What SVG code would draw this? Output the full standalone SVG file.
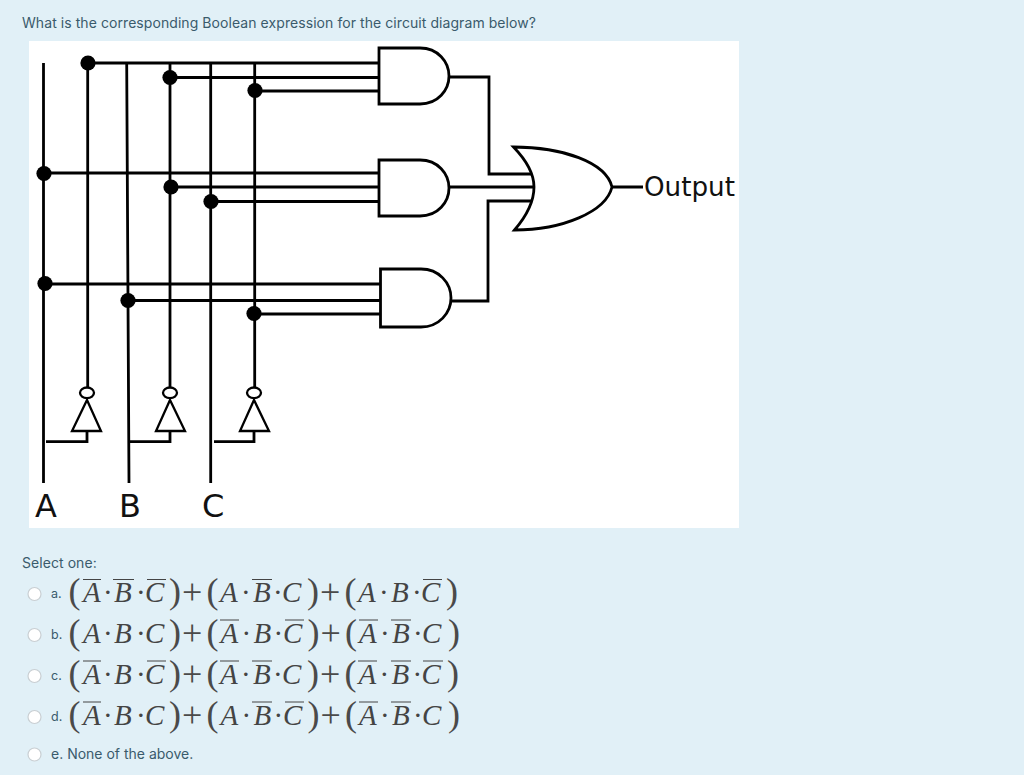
<svg xmlns="http://www.w3.org/2000/svg" width="1024" height="775" viewBox="0 0 1024 775">
<style>
.w{fill:none;stroke:#000;stroke-width:2.8}
.g{fill:#fff;stroke:#000;stroke-width:2.8;stroke-linejoin:miter}
.n{fill:#fff;stroke:#000;stroke-width:2.3}
.d{fill:#000}
.q{font-family:Inter,"Liberation Sans",sans-serif;fill:#3a5b6c}
.l{font-family:"DejaVu Sans",sans-serif;fill:#111}
.m{font-family:"Liberation Serif",serif;fill:#444;font-size:29px}
.i{font-style:italic}
.p{font-size:36px;fill:#4a4a4a}
.o{fill:#fff;stroke:#c9cfd3;stroke-width:1.2}
.bar{fill:none;stroke:#444;stroke-width:1}
</style>
<rect width="1024" height="775" fill="#e1f0f7"/>
<rect x="29" y="41" width="710" height="487" fill="#fff"/>
<text class="q" x="22" y="28" font-size="14" letter-spacing=".068">What is the corresponding Boolean expression for the circuit diagram below?</text>
<g id="connectors">
<path class="w" d="M43.500 63V483M87.700 63V387M126.700 63L129 483M170 63V387M210.700 63V483M254.700 63V387"/>
<path class="w" d="M88 63H379M170 77.500H379M255 91H379M44 173H379M171 187H379M211 201.500H379M45 284H380M128 300.500H380M254 314H380"/>
<path class="w" d="M449 77H489V174H533M449 187H533M451 301H488V201H533M612 187H643"/>
<path class="w" d="M87 431V441.700H46M170 431V441.700H130M254 431V441.700H214"/>
</g>
<g id="junctions">
<circle class="d" cx="88" cy="63" r="7.600"/><circle class="d" cx="170" cy="77.500" r="7.600"/><circle class="d" cx="255" cy="90.500" r="7.600"/>
<circle class="d" cx="44" cy="173.500" r="7.600"/><circle class="d" cx="171" cy="187" r="7.600"/><circle class="d" cx="211" cy="201.500" r="7.600"/>
<circle class="d" cx="45" cy="283.500" r="7.600"/><circle class="d" cx="128" cy="300.500" r="7.600"/><circle class="d" cx="254" cy="313.500" r="7.600"/>
</g>
<g id="and1"><path class="g" d="M379 48H420C438 48 449 62 449 76C449 90 438 104 420 104H379Z"/></g>
<g id="and2"><path class="g" d="M379 160H420C438 160 449 174 449 188C449 202 438 216 420 216H379Z"/></g>
<g id="and3"><path class="g" d="M380.500 269H421C439 269 451 283 451 298C451 313 439 327 421 327H380.500Z"/></g>
<g id="or1"><path class="g" d="M513.500 147C562 147 606 162 612 187C606 212 562 230 514.500 230C530 212 534 198 534 187C534 174 528 162 513.500 147Z"/></g>
<g id="not1"><ellipse class="n" cx="87" cy="392.800" rx="7" ry="5.300"/><path class="n" d="M87 400L72 431H101Z"/></g>
<g id="not2"><ellipse class="n" cx="170" cy="392.800" rx="7" ry="5.300"/><path class="n" d="M170 400L156 431H185Z"/></g>
<g id="not3"><ellipse class="n" cx="254" cy="392.800" rx="7" ry="5.300"/><path class="n" d="M254 400L240 431H269Z"/></g>
<text class="l" x="35" y="517" font-size="32">A</text>
<text class="l" x="119" y="517" font-size="32">B</text>
<text class="l" x="202" y="517" font-size="32">C</text>
<text class="l" x="644" y="196" font-size="26.200">Output</text>
<text class="q" x="22" y="568" font-size="14" letter-spacing=".06">Select one:</text>
<g id="optionA"><circle class="o" cx="34.500" cy="594" r="6.500"/><text class="q" x="51" y="598" font-size="12.500">a.</text>
<text class="m" x="68.500 83 103 114 136 145 169 182 206.500 220 241 253 273 282 307 320 344.500 358 379 391 412 421 446" y="603 602 602 602 602 602 603 604 603 602 602 602 602 602 603 604 603 602 602 602 602 602 603"><tspan class="p">(</tspan><tspan class="i">A</tspan>·<tspan class="i">B</tspan>·<tspan class="i">C</tspan><tspan class="p">)+(</tspan><tspan class="i">A</tspan>·<tspan class="i">B</tspan>·<tspan class="i">C</tspan><tspan class="p">)+(</tspan><tspan class="i">A</tspan>·<tspan class="i">B</tspan>·<tspan class="i">C</tspan><tspan class="p">)</tspan></text>
<path class="bar" d="M83 579.500H101M113 579.500H134M147 579.500H166M252 579.500H272M423 579.500H442"/></g>
<g id="optionB"><circle class="o" cx="34.500" cy="635" r="6.500"/><text class="q" x="51" y="638.500" font-size="12.500">b.</text>
<text class="m" x="68.500 83 103 114 136 145 169 182 206.500 220.500 241.500 253.500 273.500 283 307.500 320.500 345 359 380 392 413 422 448" y="644 643 643 643 643 643 644 645 644 643 643 643 643 643 644 645 644 643 643 643 643 643 644"><tspan class="p">(</tspan><tspan class="i">A</tspan>·<tspan class="i">B</tspan>·<tspan class="i">C</tspan><tspan class="p">)+(</tspan><tspan class="i">A</tspan>·<tspan class="i">B</tspan>·<tspan class="i">C</tspan><tspan class="p">)+(</tspan><tspan class="i">A</tspan>·<tspan class="i">B</tspan>·<tspan class="i">C</tspan><tspan class="p">)</tspan></text>
<path class="bar" d="M220 620H239M285 620H304M359 620H378M391 620H411"/></g>
<g id="optionC"><circle class="o" cx="34.500" cy="676" r="6.500"/><text class="q" x="51" y="680" font-size="12.500">c.</text>
<text class="m" x="68.500 83 103 114 136 145 169 182 206.500 220 241 253 273 282 307 320 344.500 358.500 379.500 391.500 412.500 421.500 447" y="685 684 684 684 684 684 685 686 685 684 684 684 684 684 685 686 685 684 684 684 684 684 685"><tspan class="p">(</tspan><tspan class="i">A</tspan>·<tspan class="i">B</tspan>·<tspan class="i">C</tspan><tspan class="p">)+(</tspan><tspan class="i">A</tspan>·<tspan class="i">B</tspan>·<tspan class="i">C</tspan><tspan class="p">)+(</tspan><tspan class="i">A</tspan>·<tspan class="i">B</tspan>·<tspan class="i">C</tspan><tspan class="p">)</tspan></text>
<path class="bar" d="M83 661H101M147 661H166M220 661H239M252 661H272M358 661H377M391 661H411M423 661H443"/></g>
<g id="optionD"><circle class="o" cx="34.500" cy="717" r="6.500"/><text class="q" x="51" y="720.500" font-size="12.500">d.</text>
<text class="m" x="68.500 83 103 114 136 145 169 182 206.500 220.500 241.500 253.500 273.500 283 307.500 320.500 345 359 380 392 413 422 448" y="726 725 725 725 725 725 726 727 726 725 725 725 725 725 726 727 726 725 725 725 725 725 726"><tspan class="p">(</tspan><tspan class="i">A</tspan>·<tspan class="i">B</tspan>·<tspan class="i">C</tspan><tspan class="p">)+(</tspan><tspan class="i">A</tspan>·<tspan class="i">B</tspan>·<tspan class="i">C</tspan><tspan class="p">)+(</tspan><tspan class="i">A</tspan>·<tspan class="i">B</tspan>·<tspan class="i">C</tspan><tspan class="p">)</tspan></text>
<path class="bar" d="M83 702H101M252 702H272M285 702H304M359 702H378M391 702H411"/></g>
<g id="optionE"><circle class="o" cx="34.500" cy="754.500" r="6.500"/><text class="q" x="51" y="759" font-size="14">e. None of the above.</text></g>
</svg>
